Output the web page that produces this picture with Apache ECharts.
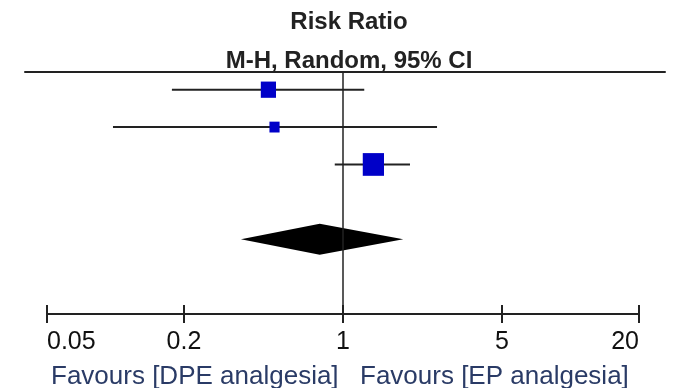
<!DOCTYPE html>
<html>
<head>
<meta charset="utf-8">
<script src="https://cdn.jsdelivr.net/npm/echarts@6/dist/echarts.min.js"></script>
<style>
html,body{margin:0;padding:0;background:#fff;}
#chart{width:678px;height:388px;}
</style>
</head>
<body>
<div id="chart"></div>
<script>
// ---- data ----
const studyNames = ['Study 1', 'Study 2', 'Study 3'];
const estimates = [0.47, 0.50, 1.36];
const lowerCI = [0.177, 0.0975, 0.92];
const upperCI = [1.24, 2.59, 1.97];
const weights = [29.4, 13.1, 57.5];
const pooledEstimate = 0.79;
const pooledLower = 0.356;
const pooledUpper = 1.84;
const tickValues = [0.05, 0.2, 1, 5, 20];
const tickLabels = ['0.05', '0.2', '1', '5', '20'];
const titleLines = ['Risk Ratio', 'M-H, Random, 95% CI'];
const favoursLeft = 'Favours [DPE analgesia]';
const favoursRight = 'Favours [EP analgesia]';

// ---- build ----
const studyData = studyNames.map((n, i) => [lowerCI[i], upperCI[i], estimates[i], i + 1, weights[i]]);
const pooledRow = studyNames.length + 2;
const pooledData = [[pooledLower, pooledUpper, pooledEstimate, pooledRow]];

const chart = echarts.init(document.getElementById('chart'), null, {renderer: 'canvas'});
const font = '"Liberation Sans", Arial, sans-serif';

const option = {
  animation: false,
  backgroundColor: '#ffffff',
  title: [
    {text: titleLines[0], left: 344, top: 5, textAlign: 'center',
     textStyle: {fontFamily: font, fontSize: 24, fontWeight: 'bold', color: '#222'}},
    {text: titleLines[1], left: 344, top: 44, textAlign: 'center',
     textStyle: {fontFamily: font, fontSize: 24, fontWeight: 'bold', color: '#222'}},
    {text: favoursLeft, left: 46, top: 359,
     textStyle: {fontFamily: font, fontSize: 26, fontWeight: 'normal', color: '#2a3b66'}},
    {text: favoursRight, left: 355, top: 359,
     textStyle: {fontFamily: font, fontSize: 26, fontWeight: 'normal', color: '#2a3b66'}}
  ],
  grid: [
    {left: 47, right: 39, top: 71, bottom: 74},
    {left: 25, right: 13, top: 71, height: 1}
  ],
  xAxis: [
    {
      type: 'log', gridIndex: 0, min: 0.05, max: 20, position: 'bottom',
      axisLine: {show: true, lineStyle: {color: '#222', width: 2}},
      axisTick: {show: true, inside: false, length: 9, lineStyle: {color: '#222', width: 2},
                 customValues: tickValues},
      axisLabel: {show: true, customValues: tickValues, margin: 16,
                  alignMinLabel: 'left', alignMaxLabel: 'right',
                  formatter: v => { const i = tickValues.findIndex(t => Math.abs(t - v) < 1e-9); return i >= 0 ? tickLabels[i] : ''; },
                  fontFamily: font, fontSize: 25, color: '#111'},
      splitLine: {show: false}, minorTick: {show: false}
    },
    {
      type: 'log', gridIndex: 0, min: 0.05, max: 20, position: 'bottom',
      axisLine: {show: false},
      axisTick: {show: true, inside: true, length: 9, lineStyle: {color: '#222', width: 2},
                 customValues: tickValues},
      axisLabel: {show: false},
      splitLine: {show: false}
    },
    {
      type: 'value', gridIndex: 1, min: 0, max: 1, position: 'top',
      axisLine: {show: true, lineStyle: {color: '#222', width: 2}},
      axisTick: {show: false}, axisLabel: {show: false}, splitLine: {show: false}
    }
  ],
  yAxis: [
    {type: 'value', gridIndex: 0, min: 0.5, max: 7, inverse: true, show: false, splitLine: {show: false}},
    {type: 'value', gridIndex: 1, min: 0, max: 1, show: false, splitLine: {show: false}}
  ],
  series: [
    {
      type: 'custom', xAxisIndex: 0, yAxisIndex: 0,
      data: studyData,
      encode: {x: [0, 1, 2], y: 3},
      renderItem: function (params, api) {
        const lo = api.coord([api.value(0), api.value(3)]);
        const hi = api.coord([api.value(1), api.value(3)]);
        const c = api.coord([api.value(2), api.value(3)]);
        const s = Math.sqrt(api.value(4)) * 2.8;
        const h = s * 1.07;
        return {
          type: 'group',
          children: [
            {type: 'line', shape: {x1: lo[0], y1: lo[1], x2: hi[0], y2: hi[1]},
             style: {stroke: '#222', lineWidth: 2}},
            {type: 'rect', shape: {x: c[0] - s / 2, y: c[1] - h / 2, width: s, height: h},
             style: {fill: '#0000c8'}}
          ]
        };
      },
      markLine: {
        silent: true, symbol: 'none', label: {show: false},
        lineStyle: {type: 'solid', color: '#222', width: 1.5},
        data: [{xAxis: 1}]
      },
      z: 3
    },
    {
      type: 'custom', xAxisIndex: 0, yAxisIndex: 0,
      data: pooledData,
      encode: {x: [0, 1, 2], y: 3},
      renderItem: function (params, api) {
        const lo = api.coord([api.value(0), api.value(3)]);
        const hi = api.coord([api.value(1), api.value(3)]);
        const c = api.coord([api.value(2), api.value(3)]);
        const hh = 15.5;
        return {
          type: 'polygon',
          shape: {points: [[lo[0], lo[1]], [c[0], c[1] - hh], [hi[0], hi[1]], [c[0], c[1] + hh]]},
          style: {fill: '#000'}
        };
      },
      z: 4
    }
  ]
};
chart.setOption(option);
</script>
</body>
</html>
